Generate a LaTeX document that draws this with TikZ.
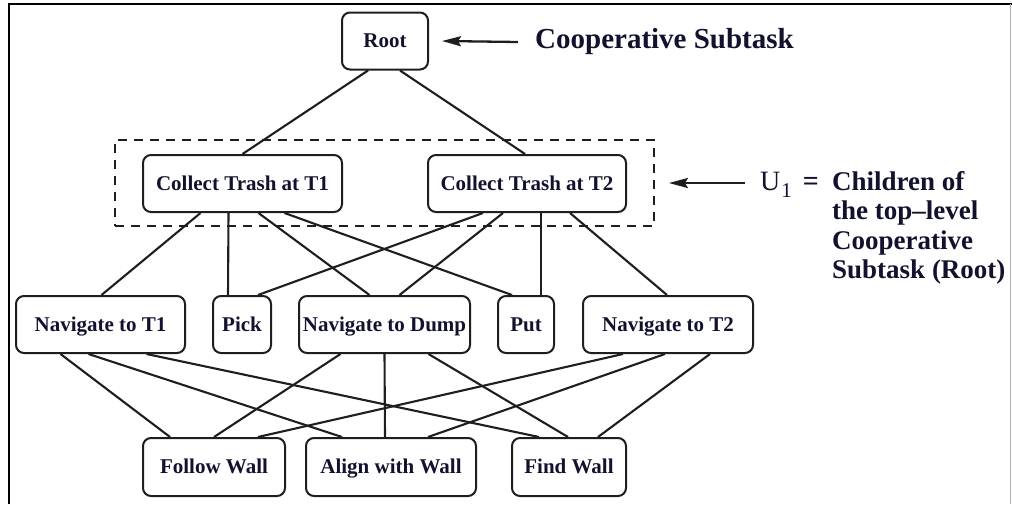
\documentclass[tikz,border=0pt]{standalone}
\usepackage{fontspec}
\setmainfont{Liberation Serif}
\usetikzlibrary{arrows.meta}
\definecolor{edgecol}{HTML}{1E1E1E}
\definecolor{txtcol}{HTML}{12122E}

\begin{document}
\begin{tikzpicture}[x=1pt,y=-1pt,
  task/.style={draw=edgecol, line width=2pt, rounded corners=8pt, inner sep=0pt,
    minimum height=57pt, font=\fontsize{21}{23}\selectfont\bfseries, text=txtcol,
    text height=16pt, text depth=3pt},
  link/.style={draw=edgecol, line width=2.1pt},
  pointer/.style={draw=edgecol, line width=2.3pt, -{Stealth[length=19pt,width=10pt,inset=3pt]}},
  note/.style={font=\fontsize{27}{29.5}\selectfont\bfseries, text=txtcol, inner sep=0pt}
]
\useasboundingbox (0,0) rectangle (1012,504);

% page frame
\draw[black, line width=2.5pt] (9,504) -- (9,4) -- (1012,4);
\draw[gray!60, line width=1pt] (1010,4) -- (1010,504);

% group of the root's children
\node[draw=edgecol, dash pattern=on 9pt off 7pt, line width=1.8pt, inner sep=0pt,
      minimum width=539pt, minimum height=86pt] (u1) at (384.5,183) {};

% task hierarchy
\node[task, minimum width=86pt]  (root)   at (385,41)      {Root};
\node[task, minimum width=199pt] (ct1)    at (242.5,183.5) {Collect Trash at T1};
\node[task, minimum width=198pt] (ct2)    at (527,183.5)   {Collect Trash at T2};
\node[task, minimum width=169pt] (nt1)    at (100.5,324.5) {Navigate to T1};
\node[task, minimum width=58pt]  (pick)   at (242,324.5)   {Pick};
\node[task, minimum width=171pt] (ndump)  at (384.5,324.5) {Navigate to Dump};
\node[task, minimum width=56pt]  (put)    at (526,324.5)   {Put};
\node[task, minimum width=170pt] (nt2)    at (668,324.5)   {Navigate to T2};
\node[task, minimum width=142pt, minimum height=58pt] (follow) at (214,467) {Follow Wall};
\node[task, minimum width=170pt, minimum height=58pt] (align)  at (391,467) {Align with Wall};
\node[task, minimum width=114pt, minimum height=58pt] (find)   at (569,467) {Find Wall};

% root to cooperative subtasks
\draw[link] ([xshift=-17pt]root.south) -- (ct1.north);
\draw[link] ([xshift=15pt]root.south) -- ([xshift=-2pt]ct2.north);

% collect trash subtasks to navigation / manipulation
\draw[link] ([xshift=-42pt]ct1.south) -- ([xshift=1pt]nt1.north);
\draw[link] ([xshift=-14pt]ct1.south) -- ([xshift=-14pt]pick.north);
\draw[link] ([xshift=16pt]ct1.south)  -- ([xshift=-15pt]ndump.north);
\draw[link] ([xshift=42pt]ct1.south)  -- ([xshift=-14pt]put.north);
\draw[link] ([xshift=-44pt]ct2.south) -- ([xshift=16pt]pick.north);
\draw[link] ([xshift=-24pt]ct2.south) -- ([xshift=15pt]ndump.north);
\draw[link] ([xshift=14pt]ct2.south)  -- ([xshift=15pt]put.north);
\draw[link] ([xshift=43pt]ct2.south)  -- ([xshift=-1pt]nt2.north);

% navigation subtasks to wall primitives
\draw[link] ([xshift=-40pt]nt1.south) -- ([xshift=-44pt]follow.north);
\draw[link] ([xshift=-12pt]nt1.south) -- ([xshift=-49pt]align.north);
\draw[link] ([xshift=46pt]nt1.south)  -- ([xshift=-30pt]find.north);
\draw[link] ([xshift=-44pt]ndump.south) -- (follow.north);
\draw[link] (ndump.south) -- ([xshift=-6pt]align.north);
\draw[link] ([xshift=44pt]ndump.south) -- ([xshift=-1pt]find.north);
\draw[link] ([xshift=-45pt]nt2.south) -- ([xshift=44pt]follow.north);
\draw[link] ([xshift=-3pt]nt2.south)  -- ([xshift=37pt]align.north);
\draw[link] ([xshift=42pt]nt2.south)  -- ([xshift=29pt]find.north);

% annotations
\coordinate (coopTail) at (518,42);
\node[note, font=\fontsize{29}{32}\selectfont\bfseries, anchor=base west] (coop) at (535,48) {Cooperative Subtask};
\draw[pointer] (coopTail) -- ([xshift=13pt]root.east);

\coordinate (uTail) at (745,183);
\draw[pointer] (uTail) -- ([xshift=14pt]u1.east);
\node[anchor=base west, inner sep=0pt, font=\fontsize{28}{29}\selectfont, text=txtcol] (ulab) at (760,190)
  {U\kern1pt\raisebox{-7pt}{\fontsize{21}{21}\selectfont 1}\hspace{11pt}\textbf{=}};
\node[note, align=left, anchor=north west] (children) at (832,171)
  {Children of\\the top–level\\Cooperative\\Subtask (Root)};
\end{tikzpicture}
\end{document}
